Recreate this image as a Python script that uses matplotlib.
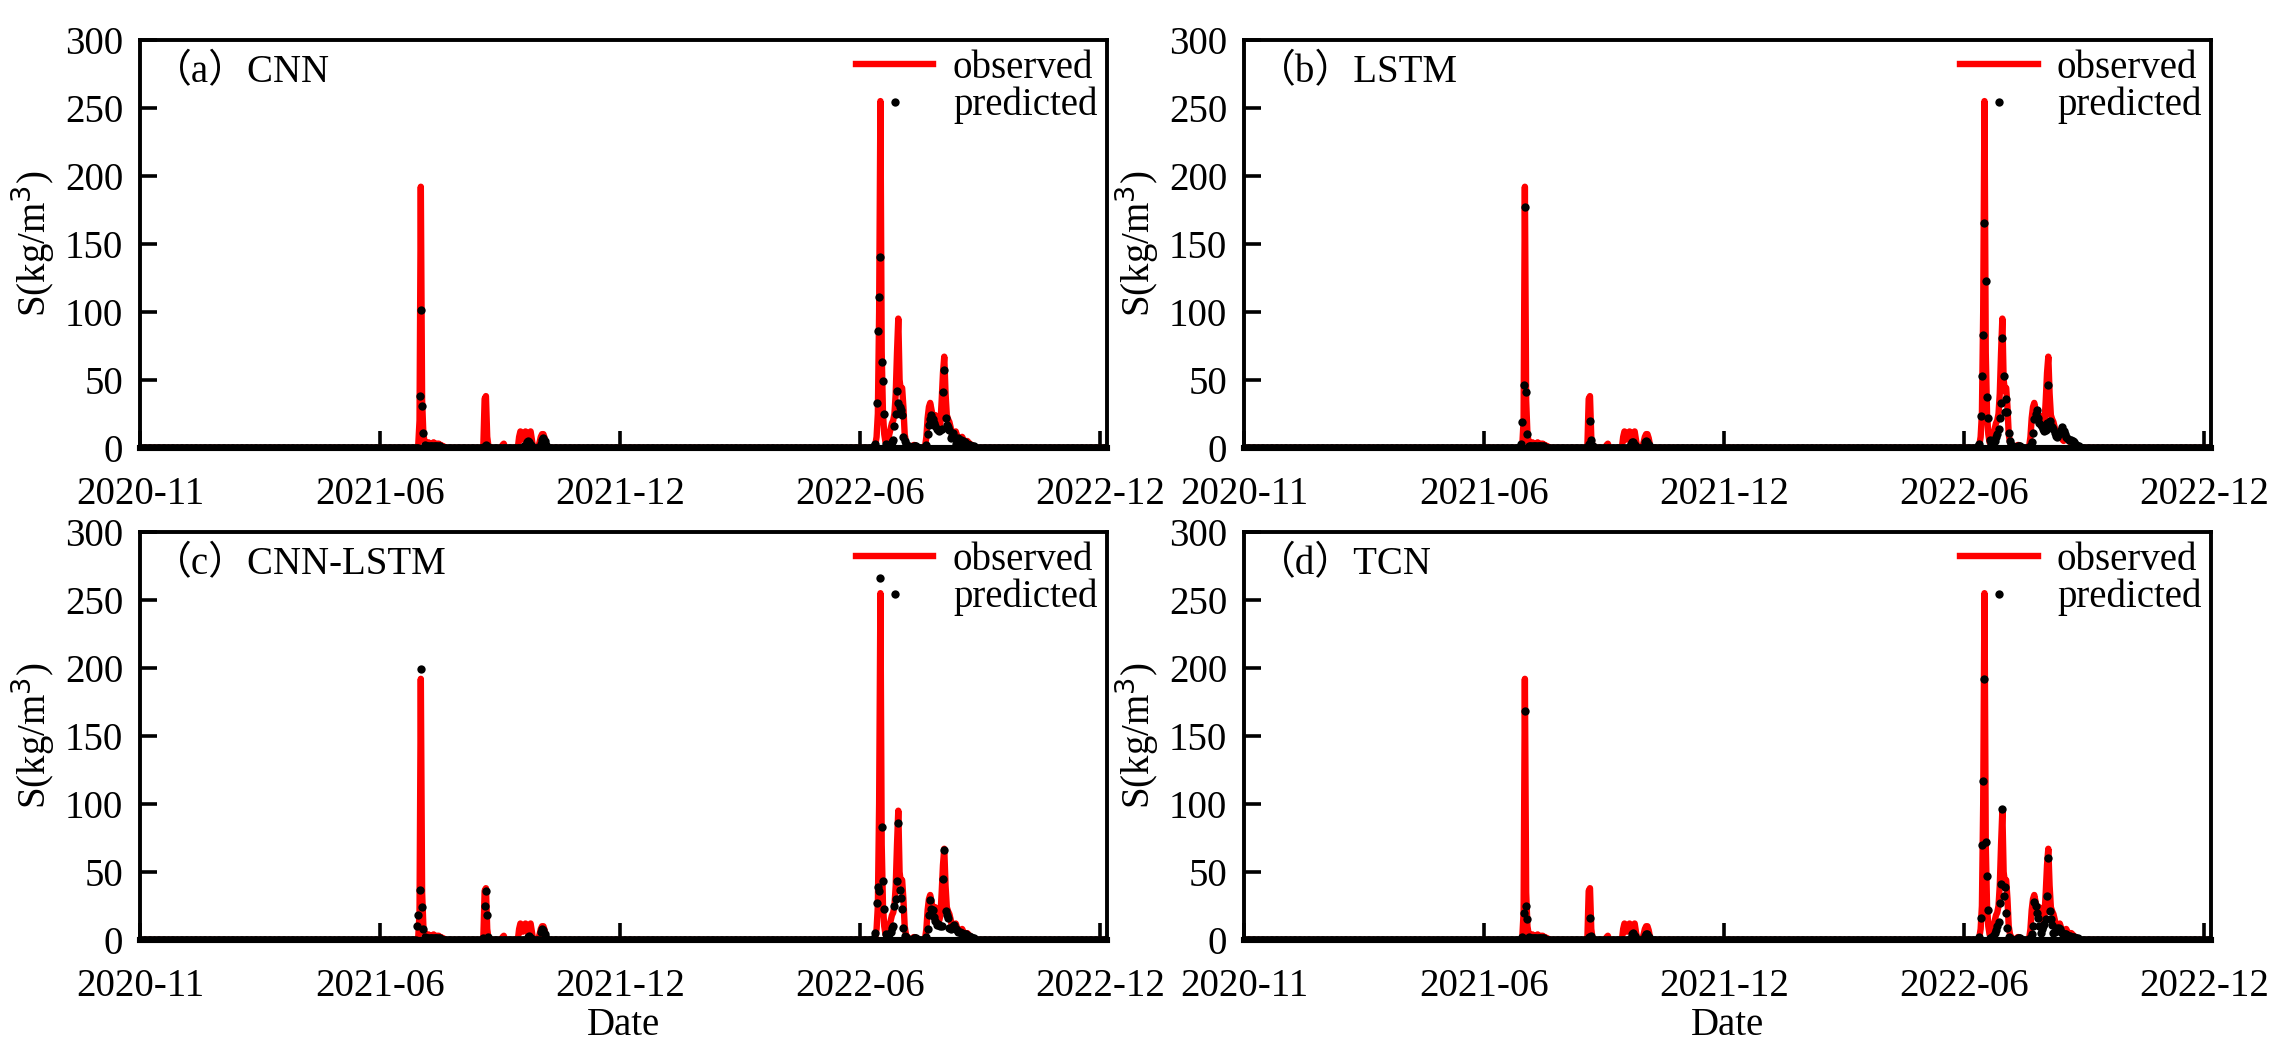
import numpy as np
import pandas as pd
import matplotlib
matplotlib.use('Agg')
import matplotlib.pyplot as plt
import matplotlib.dates as mdates

plt.rcParams['font.family'] = ['Liberation Serif', 'Noto Sans CJK SC']
plt.rcParams['font.size'] = 14

#%% data (daily sediment concentration, kg/m3)

start_date = '2020-11-25'
end_date = '2022-12-22'

models = ['CNN', 'LSTM', 'CNN-LSTM', 'TCN']
tags = ['（a）', '（b）', '（c）', '（d）']

# event 1 : starts 2021-06-29
ev1_start = '2021-06-29'
obs_ev1 = [0, 0, 2, 20, 192, 35, 10, 4, 2, 3, 4, 3, 2, 3, 4, 3, 2, 3, 3, 2, 2, 1, 1, 0, 0]
cnn_ev1 = [0, 0, 0, 38, 101, 31, 11, 2, 1, 1, 1, 1, 1, 1, 1, 1, 1, 1, 1, 1, 0, 0, 0, 0, 0]
lstm_ev1 = [0, 3, 19, 46, 177, 41, 10, 1, 1, 1, 1, 1, 1, 1, 1, 1, 1, 1, 1, 1, 0, 0, 0, 0, 0]
cnnlstm_ev1 = [0, 10, 18, 37, 199, 24, 8, 2, 1, 1, 1, 1, 1, 1, 1, 1, 1, 1, 1, 1, 0, 0, 0, 0, 0]
tcn_ev1 = [0, 0, 2, 20, 168, 25, 15, 2, 1, 1, 1, 1, 1, 1, 1, 1, 1, 1, 1, 1, 0, 0, 0, 0, 0]

# event 2 : starts 2021-08-20
ev2_start = '2021-08-20'
obs_ev2 = [0, 2, 36, 38, 8, 1, 0]
cnn_ev2 = [0, 0, 1, 2, 1, 0, 0]
lstm_ev2 = [0, 0, 3, 20, 6, 1, 0]
cnnlstm_ev2 = [0, 1, 25, 36, 18, 2, 0]
tcn_ev2 = [0, 0, 2, 16, 3, 0, 0]

# event 3 : starts 2021-09-04
ev3_start = '2021-09-04'
obs_ev3 = [0, 2, 3, 0, 0, 0, 0, 0, 0, 0,
           0, 0, 0, 0, 8, 12, 10, 6, 11, 12,
           10, 5, 11, 12, 6, 0, 0, 0, 0, 0,
           4, 8, 10, 10, 7, 2, 0]
cnn_ev3 = [0, 0, 0, 0, 0, 0, 0, 0, 0, 0,
           0, 0, 0, 0, 0, 0, 0, 0, 1, 2,
           4, 5, 4, 2, 0, 0, 0, 0, 0, 0,
           0, 3, 6, 7, 5, 2, 0]
lstm_ev3 = [0, 0, 0, 0, 0, 0, 0, 0, 0, 0,
            0, 0, 0, 0, 0, 0, 0, 0, 0, 1,
            3, 4, 4, 2, 0, 0, 0, 0, 0, 0,
            0, 4, 5, 4, 2, 0, 0]
cnnlstm_ev3 = [0, 0, 0, 0, 0, 0, 0, 0, 0, 0,
               0, 0, 0, 0, 0, 0, 0, 0, 0, 0,
               0, 2, 3, 1, 0, 0, 0, 0, 0, 0,
               0, 6, 8, 7, 4, 1, 0]
tcn_ev3 = [0, 0, 0, 0, 0, 0, 0, 0, 0, 0,
           0, 0, 0, 0, 0, 0, 0, 0, 0, 0,
           1, 4, 5, 3, 0, 0, 0, 0, 0, 0,
           0, 3, 4, 4, 2, 0, 0]

# event 4 : starts 2022-06-22
ev4_start = '2022-06-22'
obs_ev4 = [0, 0, 2, 8, 25, 100, 255, 70, 25, 10,
           4, 3, 6, 10, 14, 18, 20, 25, 40, 70,
           95, 50, 42, 44, 30, 10, 4, 2, 1, 0,
           0, 1, 2, 2, 1, 0, 0, 0, 0, 0,
           0, 1, 8, 22, 30, 33, 28, 23, 22, 24,
           18, 15, 14, 18, 35, 55, 67, 40, 24, 21,
           19, 15, 10, 8, 11, 12, 9, 6, 5, 7,
           8, 6, 5, 4, 5, 4, 3, 2, 2, 1,
           1, 0]
cnn_ev4 = [0, 1, 3, 33, 86, 111, 140, 63, 49, 25,
           3, 2, 2, 2, 3, 4, 6, 16, 25, 42,
           33, 30, 28, 24, 8, 5, 3, 1, 1, 0,
           0, 0, 1, 1, 1, 0, 0, 0, 0, 0,
           0, 0, 2, 10, 17, 21, 24, 21, 18, 16,
           14, 13, 12, 13, 14, 41, 57, 22, 17, 15,
           13, 7, 9, 11, 8, 3, 4, 7, 6, 6,
           5, 5, 4, 3, 3, 2, 2, 1, 1, 1,
           0, 0]
lstm_ev4 = [0, 1, 3, 23, 53, 83, 165, 123, 37, 22,
            6, 3, 2, 3, 5, 8, 10, 14, 22, 33,
            81, 53, 26, 36, 26, 11, 5, 2, 1, 0,
            0, 0, 1, 1, 1, 0, 0, 0, 0, 0,
            0, 0, 1, 4, 11, 21, 25, 28, 22, 18,
            17, 16, 14, 12, 13, 18, 46, 20, 16, 15,
            14, 11, 9, 8, 10, 11, 13, 15, 12, 10,
            8, 7, 6, 6, 6, 5, 4, 3, 2, 1,
            1, 0]
cnnlstm_ev4 = [0, 1, 5, 27, 39, 36, 266, 83, 43, 23,
               4, 2, 3, 4, 6, 9, 10, 25, 30, 43,
               86, 37, 31, 23, 9, 3, 2, 1, 0, 0,
               0, 0, 1, 1, 1, 0, 0, 0, 0, 0,
               0, 0, 2, 8, 18, 29, 23, 22, 17, 14,
               11, 12, 11, 10, 10, 45, 66, 21, 18, 16,
               9, 8, 9, 10, 11, 8, 7, 6, 6, 5,
               5, 4, 4, 4, 3, 3, 2, 2, 1, 1,
               0, 0]
tcn_ev4 = [0, 0, 2, 16, 70, 117, 192, 72, 47, 22,
           1, 1, 2, 3, 5, 7, 10, 13, 27, 41,
           96, 32, 39, 20, 9, 2, 1, 0, 0, 0,
           0, 0, 1, 1, 1, 0, 0, 0, 0, 0,
           0, 0, 1, 4, 10, 28, 25, 20, 16, 10,
           5, 8, 10, 12, 15, 32, 60, 21, 15, 11,
           5, 6, 8, 9, 9, 8, 6, 5, 4, 4,
           4, 3, 3, 3, 2, 2, 2, 1, 1, 1,
           0, 0]

ev_starts = [ev1_start, ev2_start, ev3_start, ev4_start]
obs_events = [obs_ev1, obs_ev2, obs_ev3, obs_ev4]
pred_events = [[cnn_ev1, cnn_ev2, cnn_ev3, cnn_ev4],
               [lstm_ev1, lstm_ev2, lstm_ev3, lstm_ev4],
               [cnnlstm_ev1, cnnlstm_ev2, cnnlstm_ev3, cnnlstm_ev4],
               [tcn_ev1, tcn_ev2, tcn_ev3, tcn_ev4]]

#%% build daily series (no flow -> 0 outside the flood events)

dates = pd.date_range(start_date, end_date, freq='D')


def to_series(events):
    s = pd.Series(0.0, index=dates)
    for st, vals in zip(ev_starts, events):
        idx = pd.date_range(st, periods=len(vals), freq='D')
        s[idx] = vals
    return s


observed = to_series(obs_events)

#%% plot

fig = plt.figure(figsize=(11.415, 5.28), dpi=200)
pos = [[0.0613, 0.576, 0.4236, 0.3862],
       [0.5449, 0.576, 0.4236, 0.3862],
       [0.0613, 0.110, 0.4236, 0.3862],
       [0.5449, 0.110, 0.4236, 0.3862]]

xticks = pd.date_range(start_date, periods=5, freq='188D')

for i, m in enumerate(models):
    ax = fig.add_axes(pos[i])
    pred = to_series(pred_events[i])
    ax.plot(observed.index, observed.values, color='red', lw=2.3,
            label='observed', zorder=2)
    ax.plot(pred.index, pred.values, 'o', color='black', ms=3.0, mew=0,
            label='predicted', zorder=3)

    ax.set_xlim(pd.Timestamp(start_date), pd.Timestamp(end_date) + pd.Timedelta(hours=12))
    ax.set_ylim(0, 300)
    ax.set_yticks(np.arange(0, 301, 50))
    ax.set_xticks(xticks)
    ax.xaxis.set_major_formatter(mdates.DateFormatter('%Y-%m'))
    ax.minorticks_off()
    ax.tick_params(axis='both', direction='in', length=6, width=1.3, labelsize=14)
    ax.tick_params(axis='x', pad=10)
    ax.tick_params(axis='y', pad=6)
    for sp in ax.spines.values():
        sp.set_linewidth(1.4)
    ax.spines['bottom'].set_linewidth(2.2)

    ax.set_ylabel('S(kg/m$^3$)', fontsize=14, labelpad=3)
    if i >= 2:
        ax.set_xlabel('Date', fontsize=14, labelpad=1)

    ax.text(0.013, 0.965, tags[i] + m, transform=ax.transAxes,
            ha='left', va='top', fontsize=14)
    ax.legend(loc='upper right', frameon=False, fontsize=14, handlelength=2.0,
              handletextpad=0.5, labelspacing=0.0, borderaxespad=0.1,
              borderpad=0.15, numpoints=1)

plt.savefig('out.png', dpi=200)
plt.close()
